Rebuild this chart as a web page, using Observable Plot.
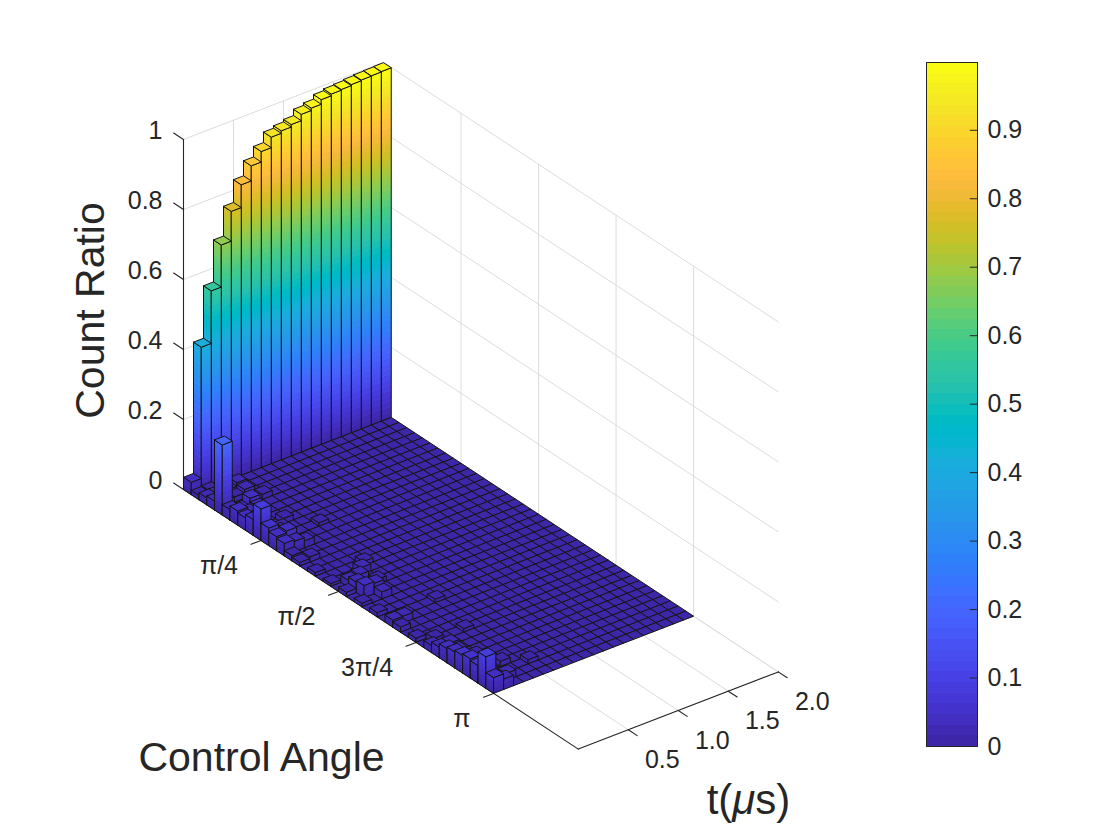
<!DOCTYPE html>
<html>
<head>
<meta charset="utf-8">
<script src="https://cdn.jsdelivr.net/npm/d3@7"></script>
<script src="https://cdn.jsdelivr.net/npm/@observablehq/plot@0.6"></script>
<style>
  body { margin: 0; background: #fff; }
  #wrap { display: flex; width: 1120px; height: 840px; }
</style>
</head>
<body>
<div id="wrap"></div>
<script>
// ---------------- DATA ----------------
// time bins (µs), bin centres, width 0.1 µs
const timeBins = [0.05,0.15,0.25,0.35,0.45,0.55,0.65,0.75,0.85,0.95,1.05,1.15,1.25,1.35,1.45,1.55,1.65,1.75,1.85,1.95];
// number of control-angle rows spanning 0 .. π
const angleRows = 40;
// count ratio of the first control-angle row (angle ≈ 0) for each time bin
const backRowRatio = [0.035,0.41,0.56,0.68,0.765,0.83,0.873,0.903,0.933,0.94,0.947,0.965,0.972,0.985,0.99,0.992,0.995,0.997,0.998,0.999];
// other visible (non-zero) bars: [angle row, time column, ratio]; all others read as 0
const floorBars = [
  [1,0,0.012],[2,0,0.02],[3,0,0.025],[4,0,0.2],[5,0,0.03],[6,0,0.04],[7,0,0.035],[8,0,0.045],
  [9,0,0.09],[10,0,0.05],[11,0,0.04],[12,0,0.035],[13,0,0.015],[14,0,0.01],[16,0,0.01],[18,0,0.008],
  [20,0,0.012],[22,0,0.01],[24,0,0.012],[26,0,0.02],[27,0,0.015],[29,0,0.012],[31,0,0.02],[32,0,0.03],
  [33,0,0.04],[34,0,0.045],[35,0,0.05],[36,0,0.055],[37,0,0.05],[38,0,0.09],[39,0,0.045],
  [1,1,0.015],[2,1,0.02],[3,1,0.015],[5,1,0.02],[6,1,0.025],[7,1,0.02],[8,1,0.02],[10,1,0.03],
  [11,1,0.045],[12,1,0.03],[14,1,0.015],[19,1,0.02],[20,1,0.03],[21,1,0.035],[26,1,0.02],[30,1,0.015],
  [32,1,0.03],[33,1,0.025],[35,1,0.02],[37,1,0.025],[39,1,0.03],
  [2,2,0.02],[3,2,0.015],[5,2,0.04],[6,2,0.03],[9,2,0.015],[12,2,0.02],[19,2,0.025],[21,2,0.03],
  [22,2,0.02],[34,2,0.015],[38,2,0.02],
  [2,3,0.03],[3,3,0.025],[8,3,0.015],[18,3,0.02],[20,3,0.015],[36,3,0.015],
  [4,4,0.015],[10,5,0.01],[17,4,0.012],[25,5,0.01],[30,4,0.01],[37,5,0.012]
];
// axes
const angleDomain = [0, 4];
const timeDomain = [0, 2];
const ratioDomain = [0, 1];
const zTicks = [0, 0.2, 0.4, 0.6, 0.8, 1];
const zTickLabels = ["0", "0.2", "0.4", "0.6", "0.8", "1"];
const angleTicks = [Math.PI/4, Math.PI/2, 3*Math.PI/4, Math.PI];
const angleTickLabels = ["π/4", "π/2", "3π/4", "π"];
const tTicks = [0.5, 1.0, 1.5, 2.0];
const tTickLabels = ["0.5", "1.0", "1.5", "2.0"];
const cbTicks = [0, 0.1, 0.2, 0.3, 0.4, 0.5, 0.6, 0.7, 0.8, 0.9];
const cbTickLabels = ["0", "0.1", "0.2", "0.3", "0.4", "0.5", "0.6", "0.7", "0.8", "0.9"];
const labels = {z: "Count Ratio", angle: "Control Angle", t: "t(μs)"};

// ---------------- STYLE ----------------
const PARULA = [
[0.2422,0.1504,0.6603],[0.2504,0.1650,0.7076],[0.2578,0.1818,0.7511],[0.2647,0.1978,0.7952],
[0.2706,0.2147,0.8364],[0.2751,0.2342,0.8710],[0.2783,0.2559,0.8991],[0.2803,0.2782,0.9221],
[0.2813,0.3006,0.9414],[0.2810,0.3228,0.9579],[0.2795,0.3447,0.9717],[0.2760,0.3667,0.9829],
[0.2699,0.3892,0.9906],[0.2602,0.4123,0.9952],[0.2440,0.4358,0.9988],[0.2206,0.4603,0.9973],
[0.1963,0.4847,0.9892],[0.1834,0.5074,0.9798],[0.1786,0.5289,0.9682],[0.1764,0.5499,0.9520],
[0.1687,0.5703,0.9359],[0.1540,0.5902,0.9218],[0.1460,0.6091,0.9079],[0.1380,0.6276,0.8973],
[0.1248,0.6459,0.8883],[0.1113,0.6635,0.8763],[0.0952,0.6798,0.8598],[0.0689,0.6948,0.8394],
[0.0297,0.7082,0.8163],[0.0036,0.7203,0.7917],[0.0067,0.7312,0.7660],[0.0433,0.7411,0.7394],
[0.0964,0.7500,0.7120],[0.1408,0.7584,0.6842],[0.1717,0.7670,0.6554],[0.1938,0.7758,0.6251],
[0.2161,0.7843,0.5923],[0.2470,0.7918,0.5567],[0.2906,0.7973,0.5188],[0.3406,0.8008,0.4789],
[0.3909,0.8029,0.4354],[0.4456,0.8024,0.3909],[0.5044,0.7993,0.3480],[0.5616,0.7942,0.3045],
[0.6174,0.7876,0.2612],[0.6720,0.7793,0.2227],[0.7242,0.7698,0.1910],[0.7738,0.7598,0.1646],
[0.8203,0.7498,0.1535],[0.8634,0.7406,0.1596],[0.9035,0.7330,0.1774],[0.9393,0.7288,0.2100],
[0.9728,0.7298,0.2394],[0.9956,0.7434,0.2371],[0.9970,0.7659,0.2199],[0.9952,0.7893,0.2028],
[0.9892,0.8136,0.1885],[0.9786,0.8386,0.1766],[0.9676,0.8639,0.1643],[0.9610,0.8890,0.1537],
[0.9597,0.9135,0.1423],[0.9628,0.9373,0.1265],[0.9691,0.9606,0.1064],[0.9769,0.9839,0.0805]
];
const PARULA_CSS = PARULA.map(([r,g,b]) => d3.rgb(r*255, g*255, b*255).formatHex());
const parulaAt = (u) => PARULA_CSS[Math.max(0, Math.min(PARULA.length - 1, Math.floor(u * PARULA.length)))];
const INK = "#262626", GRID = "#dcdcdc", EDGE = "#151515";
const FONT = "'Liberation Sans', Arial, Helvetica, sans-serif";

// ------------- oblique 3D projection (axes box layout) -------------
const ORIGIN = [183, 489];          // screen point of (angle 0, t 0, ratio 0)
const AX_ANGLE = [98.7, 64.9];      // screen px per radian
const AX_T = [100, -38.6];          // screen px per µs
const AX_Z = 350;                   // screen px per unit ratio
function proj(a, t, z) {
  return [ORIGIN[0] + AX_ANGLE[0]*a + AX_T[0]*t, ORIGIN[1] + AX_ANGLE[1]*a + AX_T[1]*t - AX_Z*z];
}

// ---------------- build matrix ----------------
const nT = timeBins.length;
const M = d3.range(angleRows).map(() => new Array(nT).fill(0));
backRowRatio.forEach((v, c) => { M[0][c] = v; });
floorBars.forEach(([r, c, v]) => { M[r][c] = v; });
const cmax = d3.max(M.flat());
const dA = Math.PI / angleRows;
const dT = timeBins[1] - timeBins[0];

// ---------------- polygons (painter's order) ----------------
const polys = [];
let pid = 0;
function addPoly(verts, v, fo, so) {
  const id = pid++;
  for (const [a, t, z] of verts) {
    const [x, y] = proj(a, t, z);
    polys.push({id, x, y, v, fo, so});
  }
}
const step = cmax / PARULA.length;
function sideFace(p0, p1, h) {
  for (let k = 0; k * step < h - 1e-9; k++) {
    const lo = k * step, hi = Math.min(h, (k + 1) * step);
    const top = Math.min(h, hi + 0.0016);
    addPoly([[p0[0], p0[1], lo], [p1[0], p1[1], lo], [p1[0], p1[1], top], [p0[0], p0[1], top]], (lo + hi) / 2, 1, 0);
  }
  addPoly([[p0[0], p0[1], 0], [p1[0], p1[1], 0], [p1[0], p1[1], h], [p0[0], p0[1], h], [p0[0], p0[1], 0]], 0, 0, 1);
}
for (let r = 0; r < angleRows; r++) {
  for (let c = nT - 1; c >= 0; c--) {
    const h = M[r][c];
    const a0 = r * dA, a1 = (r + 1) * dA;
    const t0 = timeBins[c] - dT / 2, t1 = timeBins[c] + dT / 2;
    if (h > 0) {
      sideFace([a0, t0], [a1, t0], h);   // face toward small t
      sideFace([a1, t0], [a1, t1], h);   // face toward large angle
    }
    addPoly([[a0, t0, h], [a0, t1, h], [a1, t1, h], [a1, t0, h], [a0, t0, h]], h, 1, 1);
  }
}

// ---------------- grid lines & axes ----------------
const grid = [];
let gid = 0;
function seg(list, p, q) { const id = gid++; list.push({id, x: p[0], y: p[1]}, {id, x: q[0], y: q[1]}); }
const [A0, A1] = angleDomain, [T0, T1] = timeDomain, [Z0, Z1] = ratioDomain;
// back wall (angle = 0)
tTicks.forEach(t => seg(grid, proj(A0, t, Z0), proj(A0, t, Z1)));
zTicks.forEach(z => seg(grid, proj(A0, T0, z), proj(A0, T1, z)));
// side wall (t = max)
angleTicks.forEach(a => seg(grid, proj(a, T1, Z0), proj(a, T1, Z1)));
zTicks.forEach(z => seg(grid, proj(A0, T1, z), proj(A1, T1, z)));
// floor
tTicks.forEach(t => seg(grid, proj(A0, t, Z0), proj(A1, t, Z0)));
angleTicks.forEach(a => seg(grid, proj(a, T0, Z0), proj(a, T1, Z0)));

const axes = [];
seg(axes, proj(A0, T0, Z0), proj(A0, T0, Z1));
seg(axes, proj(A0, T0, Z0), proj(A1, T0, Z0));
seg(axes, proj(A1, T0, Z0), proj(A1, T1, Z0));
zTicks.forEach(z => seg(axes, proj(A0, T0, z), proj(A0 - 0.1, T0, z)));
angleTicks.forEach(a => seg(axes, proj(a, T0, Z0), proj(a, T0 - 0.1, Z0)));
tTicks.forEach(t => seg(axes, proj(A1, t, Z0), proj(A1 + 0.09, t, Z0)));

const zLab = zTicks.map((z, i) => ({p: proj(A0, T0, z), s: zTickLabels[i]}));
const aLab = angleTicks.map((a, i) => ({p: proj(a, T0, Z0), s: angleTickLabels[i]}));
const tLab = tTicks.map((t, i) => ({p: proj(A1, t, Z0), s: tTickLabels[i]}));

const colorScale = {type: "linear", domain: [0, cmax], interpolate: parulaAt};

const main = Plot.plot({
  width: 900, height: 840, margin: 0,
  style: {fontFamily: FONT, background: "#fff"},
  x: {type: "linear", domain: [0, 900], range: [0, 900], axis: null},
  y: {type: "linear", domain: [0, 840], range: [0, 840], axis: null},
  color: colorScale,
  opacity: {domain: [0, 1], range: [0, 1]},
  marks: [
    Plot.line(grid, {x: "x", y: "y", z: "id", stroke: GRID, strokeWidth: 1}),
    Plot.line(axes, {x: "x", y: "y", z: "id", stroke: INK, strokeWidth: 1.1}),
    Plot.line(polys, {x: "x", y: "y", z: "id", fill: "v", fillOpacity: "fo", strokeOpacity: "so",
      stroke: EDGE, strokeWidth: 1, strokeLinejoin: "round"}),
    Plot.text(zLab, {x: d => d.p[0], y: d => d.p[1], text: "s", dx: -21, dy: -9, textAnchor: "end", fontSize: 25, fill: INK}),
    Plot.text(aLab, {x: d => d.p[0], y: d => d.p[1], text: "s", dx: -23, dy: 26, textAnchor: "end", fontSize: 25, fill: INK}),
    Plot.text(tLab, {x: d => d.p[0], y: d => d.p[1], text: "s", dx: 34, dy: 30, textAnchor: "middle", fontSize: 25, fill: INK}),
    Plot.text([labels.z], {x: 90, y: 310, text: d => d, rotate: -90, textAnchor: "middle", fontSize: 41, fill: INK}),
    Plot.text([labels.angle], {x: 261, y: 757, text: d => d, textAnchor: "middle", fontSize: 41, fill: INK}),
    Plot.text([labels.t], {x: 748, y: 800, text: d => d, textAnchor: "middle", fontSize: 42, fill: INK})
  ]
});

// italic μ as in the TeX label
main.querySelectorAll("text").forEach(el => {
  if (el.textContent === labels.t) el.innerHTML = 't(<tspan font-style="italic">μ</tspan>s)';
});

// ---------------- colorbar ----------------
const bands = d3.range(PARULA.length).map(k => ({lo: k * step, hi: (k + 1) * step, mid: (k + 0.5) * step}));
const cb = Plot.plot({
  width: 220, height: 840,
  marginLeft: 26, marginRight: 143, marginTop: 62, marginBottom: 94,
  style: {fontFamily: FONT, background: "#fff"},
  x: {domain: [0, 1], axis: null},
  y: {domain: [0, cmax], axis: null},
  color: colorScale,
  marks: [
    Plot.rect(bands, {x1: 0, x2: 1, y1: "lo", y2: "hi", fill: "mid", shapeRendering: "crispEdges"}),
    Plot.ruleY(cbTicks, {x1: 0.86, x2: 1, stroke: INK, strokeWidth: 1}),
    Plot.frame({stroke: INK, strokeWidth: 1}),
    Plot.text(cbTicks, {x: 1, y: d => d, text: (d, i) => cbTickLabels[i], dx: 10, textAnchor: "start", fontSize: 25, fill: INK})
  ]
});

document.getElementById("wrap").append(main, cb);
</script>
</body>
</html>
